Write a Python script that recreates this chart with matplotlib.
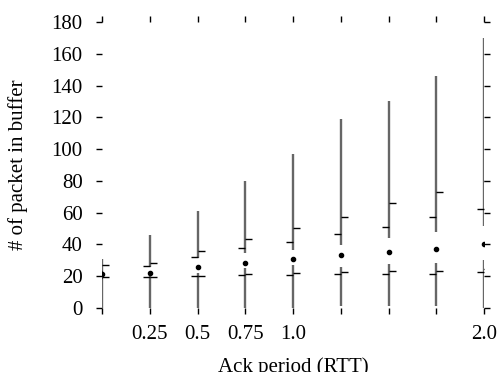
import matplotlib.pyplot as plt

plt.rcParams['font.family'] = ['Liberation Serif', 'DejaVu Serif']
plt.rcParams['font.size'] = 15

# ack period (RTT)
periods = [0.0, 0.25, 0.5, 0.75, 1.0, 1.25, 1.5, 1.75, 2.0]

# lower part: min .. lower top, with a left and right tick
lo_min = [0, 0, 0, 0, 0, 1, 1, 1, 0]
lo_top = [20.5, 20.8, 22, 25, 27, 26, 28, 28.3, 30.2]
lo_left = [19, 19.6, 20.1, 20.8, 20.8, 21.4, 21.4, 21.4, 22.7]
lo_right = [19.6, 19.8, 20.4, 21.6, 21.8, 22.4, 23.5, 23.5, 24.5]

# median dots
medians = [21.5, 22.3, 25.7, 28.1, 30.6, 33.4, 35.4, 37.3, 40.3]

# upper part: upper bottom .. max, with a left and right tick
up_bot = [22.5, 25.6, 31.5, 34.4, 36.5, 39.6, 43.9, 48, 51.6]
up_left = [23, 26.2, 32.3, 37.5, 41.7, 46.4, 51.2, 57.5, 62.3]
up_right = [27, 28.3, 35.8, 43.2, 50.1, 57.5, 66.3, 73.2, 80]
up_max = [31, 46, 61, 80, 97, 119, 130, 146, 170]

xticks = [0, 0.25, 0.5, 0.75, 1.0, 1.25, 1.5, 1.75, 2.0]
xtick_labels = ['', '0.25', '0.5', '0.75', '1.0', '', '', '', '2.0']

fig = plt.figure(figsize=(4.98, 3.72), dpi=100)
ax = fig.add_axes([0.205, 0.172, 0.767, 0.769])

line_color = '#666666'
for i, x in enumerate(periods):
    ax.plot([x, x], [lo_min[i], lo_top[i]], color=line_color, lw=1.7, solid_capstyle='butt')
    ax.plot([x, x], [up_bot[i], up_max[i]], color=line_color, lw=1.7, solid_capstyle='butt')

# left / right ticks (matplotlib tick markers 0 = tickleft, 1 = tickright)
ax.plot(periods, lo_left, linestyle='none', marker=0, ms=5, mew=1, color='black')
ax.plot(periods, up_left, linestyle='none', marker=0, ms=5, mew=1, color='black')
ax.plot(periods, lo_right, linestyle='none', marker=1, ms=5, mew=1, color='black')
ax.plot(periods, up_right, linestyle='none', marker=1, ms=5, mew=1, color='black')

ax.plot(periods, medians, linestyle='none', marker='o', ms=3, color='black')

ax.set_xlim(0, 2.0)
ax.set_ylim(0, 180)
ax.set_xticks(xticks)
ax.set_xticklabels(xtick_labels)
ax.set_yticks(range(0, 181, 20))

for side in ['top', 'right', 'bottom', 'left']:
    ax.spines[side].set_visible(False)

ax.tick_params(axis='both', which='both', direction='out', length=4, width=1,
               top=True, right=True, color='black')
ax.tick_params(axis='y', pad=10)
ax.tick_params(axis='x', pad=8)

ax.set_xlabel('Ack period (RTT)')
ax.set_ylabel('# of packet in buffer')
ax.xaxis.set_label_coords(0.5, -0.171)
ax.yaxis.set_label_coords(-0.194, 0.5)

fig.savefig('out.png', dpi=100)
